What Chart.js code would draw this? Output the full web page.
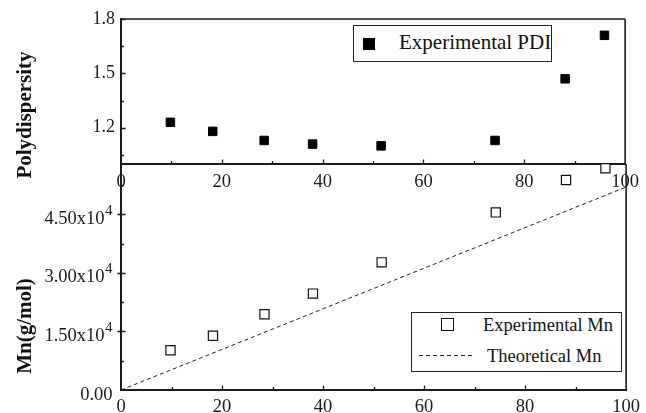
<!DOCTYPE html>
<html>
<head>
<meta charset="utf-8">
<script src="https://cdn.jsdelivr.net/npm/chart.js@4.4.0/dist/chart.umd.min.js"></script>
<style>
  body { margin: 0; background: #fff; }
  #wrap { position: relative; width: 646px; height: 413px; overflow: hidden;
          font-family: 'Liberation Serif', 'Times New Roman', serif; color: #111; }
  #wrap canvas { position: absolute; left: 0; top: 0; }
  .ytitle { position: absolute; font-weight: bold; font-size: 21px; white-space: nowrap;
            transform: translate(-50%, -50%) rotate(-90deg); }
  .box { position: absolute; box-sizing: border-box; border: 1.3px solid #222; background: #fff; }
  .abs { position: absolute; white-space: nowrap; }
</style>
</head>
<body>
<div id="wrap">
  <canvas id="pdiChart" width="646" height="413"></canvas>
  <canvas id="mnChart" width="646" height="413"></canvas>

  <div class="ytitle" style="left:24px; top:115px;">Polydispersity</div>
  <div class="ytitle" style="left:24px; top:326px;">Mn(g/mol)</div>

  <div class="box" style="left:353px; top:25px; width:199px; height:37px;"></div>
  <div class="abs" style="left:363px; top:38px; width:12px; height:12px; background:#000;"></div>
  <div class="abs" id="lgPdi" style="left:399px; top:32px; font-size:21px; line-height:21px;"></div>

  <div class="box" style="left:411px; top:312px; width:211px; height:60px;"></div>
  <div class="abs" style="left:441px; top:318px; width:13px; height:13px; box-sizing:border-box; border:1.3px solid #111;"></div>
  <div class="abs" id="lgMn" style="left:483px; top:316px; font-size:18.5px; line-height:18.5px;"></div>
  <div class="abs" style="left:419px; top:355px; width:53px; height:1px;
       background:repeating-linear-gradient(to right, #222 0 4px, transparent 4px 7px);"></div>
  <div class="abs" id="lgTheory" style="left:487px; top:347px; font-size:18.5px; line-height:18.5px;"></div>
</div>

<script>
// conversion (%) and measured values
const conversion = [9.8, 18.2, 28.4, 38.0, 51.6, 74.2, 88.1, 95.9];
const pdi = [1.23, 1.18, 1.13, 1.11, 1.10, 1.13, 1.47, 1.71];
const mnExp = [10200, 13900, 19400, 24700, 32700, 45500, 53800, 56800];

// theoretical Mn line
const theoryConversion = [0, 100];
const mnTheory = [0, 52000];

const seriesNames = ['Experimental PDI', 'Experimental Mn', 'Theoretical Mn'];

// axis ticks
const xTicks = [0, 20, 40, 60, 80, 100];
const xMinorTicks = [10, 30, 50, 70, 90];
const pdiTicks = [1.2, 1.5, 1.8];
const pdiMinorTicks = [1.05, 1.35, 1.65];
const mnTicks = [0, 15000, 30000, 45000];
const mnMinorTicks = [7500, 22500, 37500, 52500];

const ink = '#1a1a1a';
const serif = "'Liberation Serif', 'Times New Roman', serif";

function points(xs, ys) {
  return xs.map((x, i) => ({ x: x, y: ys[i] }));
}

// "4.50x10" + raised exponent
function mnLabel(v) {
  return v === 0 ? ['0.00', ''] : [(v / 1e4).toFixed(2) + 'x10', '4'];
}

// frame on the right (and top) plus tick marks pointing into the plot
const framePlugin = {
  id: 'frame',
  afterDraw(chart, args, opts) {
    const { ctx, chartArea: a, scales } = chart;
    ctx.save();
    ctx.strokeStyle = ink;
    ctx.lineWidth = 1.6;
    ctx.beginPath();
    if (opts.top) {
      ctx.moveTo(a.left, a.top);
      ctx.lineTo(a.right, a.top);
    }
    ctx.moveTo(a.right, a.top);
    ctx.lineTo(a.right, a.bottom);
    ctx.stroke();

    ctx.lineWidth = 1.3;
    ctx.beginPath();
    const xt = (vals, len) => vals.forEach(v => {
      const px = Math.round(scales.x.getPixelForValue(v)) + 0.5;
      ctx.moveTo(px, a.bottom);
      ctx.lineTo(px, a.bottom - len);
    });
    const yt = (vals, len, out) => vals.forEach(v => {
      const py = Math.round(scales.y.getPixelForValue(v)) + 0.5;
      if (py < a.top || py > a.bottom) return;
      ctx.moveTo(a.left - out, py);
      ctx.lineTo(a.left + len, py);
    });
    xt(xTicks.slice(1, -1), 4.5);
    xt(xMinorTicks, 3);
    yt(opts.yMajor, 4.5, opts.yOut || 0);
    yt(opts.yMinor, 3, 0);
    ctx.stroke();

    // tick labels with a superscript exponent
    if (opts.supLabels) {
      ctx.fillStyle = ink;
      ctx.textAlign = 'left';
      ctx.textBaseline = 'alphabetic';
      const right = a.left - 8.5;
      opts.yMajor.forEach(v => {
        const py = scales.y.getPixelForValue(v);
        const [base, sup] = opts.supLabels(v);
        ctx.font = '15px ' + serif;
        const ws = sup ? ctx.measureText(sup).width + 0.5 : 0;
        ctx.font = '18.5px ' + serif;
        const wb = ctx.measureText(base).width;
        ctx.fillText(base, right - ws - wb, py + 9.5);
        if (sup) {
          ctx.font = '15px ' + serif;
          ctx.fillText(sup, right - ws + 0.5, py + 0.5);
        }
      });
    }
    ctx.restore();
  }
};

function xScale(labelPad, height) {
  return {
    type: 'linear',
    min: 0,
    max: 100,
    afterBuildTicks: s => { s.ticks = xTicks.map(v => ({ value: v })); },
    afterFit: s => { s.height = height; },
    ticks: { color: ink, font: { family: serif, size: 18.5 }, padding: labelPad, maxRotation: 0, autoSkip: false },
    grid: { drawOnChartArea: false, drawTicks: false },
    border: { color: ink, width: 2 }
  };
}

function yScale(min, max, ticks, fmt) {
  return {
    type: 'linear',
    min: min,
    max: max,
    afterBuildTicks: s => { s.ticks = ticks.map(v => ({ value: v })); },
    afterFit: s => { s.width = 121; },
    ticks: { display: !!fmt, color: ink, font: { family: serif, size: 18 }, padding: 6, callback: fmt },
    grid: { drawOnChartArea: false, drawTicks: false },
    border: { color: ink, width: 2 }
  };
}

const common = {
  responsive: false,
  animation: false,
  plugins: { legend: { display: false }, tooltip: { enabled: false } }
};

// upper panel: polydispersity
new Chart(document.getElementById('pdiChart'), {
  type: 'scatter',
  data: {
    datasets: [{
      label: seriesNames[0],
      data: points(conversion, pdi),
      pointStyle: 'rect',
      pointRadius: 6,
      backgroundColor: '#000',
      borderColor: '#000',
      borderWidth: 1,
      clip: false
    }]
  },
  options: {
    ...common,
    layout: { padding: { top: 19, right: 15, bottom: 219, left: 0 } },
    plugins: { ...common.plugins, frame: { top: true, yMajor: pdiTicks, yMinor: pdiMinorTicks } },
    scales: {
      x: xScale(7, 30),
      y: yScale(1.0, 1.8, pdiTicks, v => v.toFixed(1))
    }
  },
  plugins: [framePlugin]
});

// lower panel: molecular weight
new Chart(document.getElementById('mnChart'), {
  type: 'scatter',
  data: {
    datasets: [{
      label: seriesNames[1],
      data: points(conversion, mnExp),
      pointStyle: 'rect',
      pointRadius: 6.5,
      backgroundColor: '#fff',
      borderColor: '#111',
      borderWidth: 1.2,
      clip: false
    }, {
      label: seriesNames[2],
      data: points(theoryConversion, mnTheory),
      showLine: true,
      pointRadius: 0,
      borderColor: '#222',
      borderWidth: 1,
      borderDash: [4, 3],
      clip: false
    }]
  },
  options: {
    ...common,
    layout: { padding: { top: 164, right: 15, bottom: 0, left: 0 } },
    plugins: {
      ...common.plugins,
      frame: { top: false, yMajor: mnTicks, yMinor: mnMinorTicks, yOut: 3.5, supLabels: mnLabel }
    },
    scales: {
      x: xScale(6, 23),
      y: yScale(0, 57900, mnTicks, null)
    }
  },
  plugins: [framePlugin]
});

document.getElementById('lgPdi').textContent = seriesNames[0];
document.getElementById('lgMn').textContent = seriesNames[1];
document.getElementById('lgTheory').textContent = seriesNames[2];
</script>
</body>
</html>
